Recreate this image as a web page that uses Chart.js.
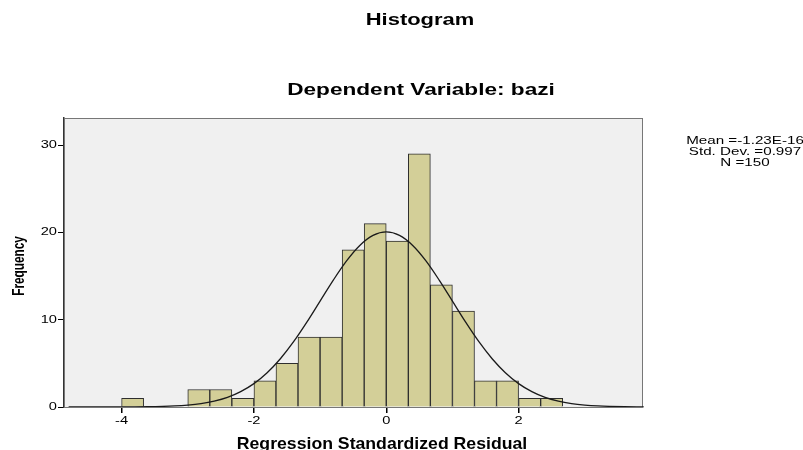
<!DOCTYPE html>
<html>
<head>
<meta charset="utf-8">
<script src="https://cdn.jsdelivr.net/npm/chart.js@4"></script>
<style>
  body { margin: 0; background: #fff; }
  #wrap { width: 803px; height: 450px; }
</style>
</head>
<body>
<div id="wrap"><canvas id="histCanvas" width="803" height="450"></canvas></div>
<script>
// bin centres (width 1/3) and frequencies
const binCenters = [-3.833, -3.5, -3.167, -2.833, -2.5, -2.167, -1.833, -1.5, -1.167, -0.833,
                    -0.5, -0.167, 0.167, 0.5, 0.833, 1.167, 1.5, 1.833, 2.167, 2.5];
const counts = [1, 0, 0, 2, 2, 1, 3, 5, 8, 8, 18, 21, 19, 29, 14, 11, 3, 3, 1, 1];

// normal curve
const curveX = [-4.8, -4.4, -4.0, -3.6, -3.2, -3.0, -2.8, -2.6, -2.4, -2.2, -2.0, -1.8, -1.6, -1.4,
                -1.2, -1.0, -0.8, -0.6, -0.4, -0.2, 0, 0.2, 0.4, 0.6, 0.8, 1.0, 1.2, 1.4, 1.6,
                1.8, 2.0, 2.2, 2.4, 2.6, 2.8, 3.0, 3.2, 3.6, 3.88];
const curveY = [0, 0, 0.01, 0.03, 0.12, 0.22, 0.39, 0.67, 1.1, 1.76, 2.68, 3.93, 5.53, 7.48,
                9.72, 12.13, 14.53, 16.73, 18.5, 19.65, 20.05, 19.65, 18.5, 16.73, 14.53, 12.13, 9.72, 7.48, 5.53,
                3.93, 2.68, 1.76, 1.1, 0.67, 0.39, 0.22, 0.12, 0.03, 0.01];

const xTicks = [-4, -2, 0, 2];
const yTicks = [0, 10, 20, 30];
const statsLines = ['Mean =-1.23E-16', 'Std. Dev. =0.997', 'N =150'];

const FONT = 'Liberation Sans, Arial, sans-serif';

function stretchText(ctx, txt, x, y, font, sx, align, base) {
  ctx.save();
  ctx.font = font;
  ctx.fillStyle = '#000';
  ctx.textBaseline = base || 'middle';
  ctx.textAlign = align || 'center';
  ctx.translate(x, y);
  ctx.scale(sx, 1);
  ctx.fillText(txt, 0, 0);
  ctx.restore();
}

const decor = {
  id: 'decor',
  beforeDatasetsDraw(chart) {
    const { ctx, chartArea: a } = chart;
    ctx.save();
    ctx.fillStyle = '#f0f0f0';
    ctx.fillRect(a.left, a.top, a.right - a.left, a.bottom - a.top);
    ctx.strokeStyle = '#777';
    ctx.lineWidth = 1;
    ctx.strokeRect(a.left + 0.5, a.top + 0.5, a.right - a.left - 1, a.bottom - a.top);
    ctx.restore();
  },
  afterDraw(chart) {
    const { ctx, chartArea: a } = chart;
    const xs = chart.scales.x, ys = chart.scales.y;
    stretchText(ctx, 'Histogram', 420, 20, 'bold 16.5px ' + FONT, 1.33);
    stretchText(ctx, 'Dependent Variable: bazi', 421, 90, 'bold 17px ' + FONT, 1.33);
    stretchText(ctx, 'Regression Standardized Residual', 382, 449, 'bold 16.5px ' + FONT, 1.07, 'center', 'alphabetic');
    ctx.save();
    ctx.translate(19, 266);
    ctx.rotate(-Math.PI / 2);
    ctx.scale(1, 1.4);
    ctx.font = 'bold 11.8px ' + FONT;
    ctx.textAlign = 'center';
    ctx.textBaseline = 'middle';
    ctx.fillStyle = '#000';
    ctx.fillText('Frequency', 0, 0);
    ctx.restore();
    xTicks.forEach(v => stretchText(ctx, String(v), xs.getPixelForValue(v), a.bottom + 14, '11px ' + FONT, 1.33));
    yTicks.forEach(v => stretchText(ctx, String(v), 57, ys.getPixelForValue(v), '11px ' + FONT, 1.33, 'right'));
    statsLines.forEach((t, i) => stretchText(ctx, t, 745, 141 + i * 11, '11px ' + FONT, 1.38));
  }
};

const ctx = document.getElementById('histCanvas').getContext('2d');
const chart = new Chart(ctx, {
  type: 'bar',
  data: {
    datasets: [{
      type: 'line',
      data: curveX.map((x, i) => ({ x: x, y: curveY[i] })),
      borderColor: '#1a1a1a',
      borderWidth: 1.3,
      pointRadius: 0,
      cubicInterpolationMode: 'monotone',
      fill: false,
      clip: 0,
      order: 0
    }, {
      data: binCenters.map((x, i) => ({ x: x, y: counts[i] })),
      backgroundColor: '#d3cf98',
      borderColor: '#2e2e2e',
      borderWidth: 1,
      barPercentage: 1,
      categoryPercentage: 1,
      order: 1
    }]
  },
  options: {
    responsive: false,
    animation: false,
    layout: { padding: { left: 0, right: 160, top: 118, bottom: 0 } },
    plugins: { legend: { display: false }, tooltip: { enabled: false } },
    scales: {
      x: {
        type: 'linear',
        offset: false,
        min: -4.87,
        max: 3.88,
        afterBuildTicks: s => { s.ticks = xTicks.map(v => ({ value: v })); },
        afterFit: s => { s.height = 43; },
        ticks: { display: false },
        grid: { offset: false, drawOnChartArea: false, drawTicks: true, tickLength: 6, color: '#000', lineWidth: 1.5 },
        border: { display: true, color: '#000', width: 1.5 }
      },
      y: {
        min: 0,
        max: 33.1,
        afterBuildTicks: s => { s.ticks = yTicks.map(v => ({ value: v })); },
        afterFit: s => { s.width = 64; },
        ticks: { display: false },
        grid: { drawOnChartArea: false, drawTicks: true, tickLength: 6, color: '#000' },
        border: { display: true, color: '#333', width: 1.5 }
      }
    }
  },
  plugins: [decor]
});
</script>
</body>
</html>
